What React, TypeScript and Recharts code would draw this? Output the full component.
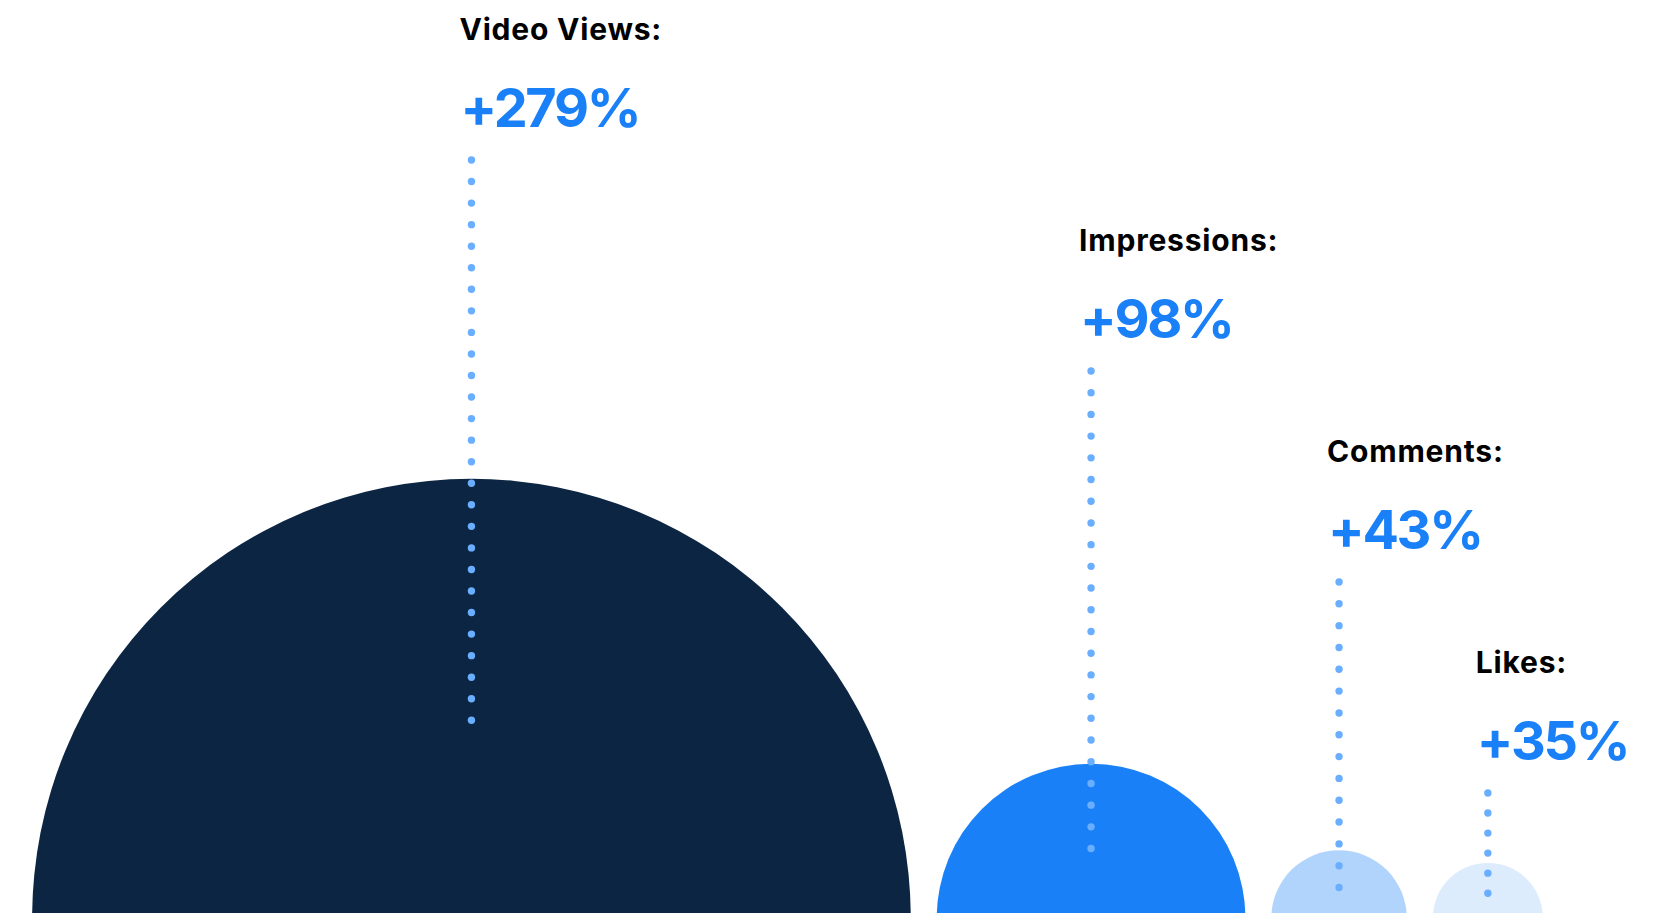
import React from 'react';
import { ScatterChart, Scatter, XAxis, YAxis } from 'recharts';

const categories = ['Video Views:', 'Impressions:', 'Comments:', 'Likes:'];
const growth = [279, 98, 43, 35];
const valueLabels = ['+279%', '+98%', '+43%', '+35%'];
const fills = ['#0C2543', '#1A80F7', '#B1D4FC', '#DDECFD'];

const W = 1657;
const H = 918;
const VIEW_H = 913;
const Y_MAX = 583;
const X_MAX = (Y_MAX * W) / H;
const LEFT_PAD = 20.4;
const GAP = 16.5;

const data: { x: number; y: number; idx: number }[] = [];
{
  let pos = LEFT_PAD;
  growth.forEach((v, i) => {
    const c = pos + v;
    data.push({ x: c, y: v, idx: i });
    pos = c + v + GAP;
  });
}

const DOT_STEP = 21.7;
const DOT_R = 3.7;
const DOT_COLOR = '#6AAEFF';

const Bubble = (props: any) => {
  const { cx, cy, payload } = props;
  const i = payload.idx;
  const base = H;
  const r = base - cy;
  const path = `M ${cx - r} ${base} A ${r} ${r} 0 0 1 ${cx + r} ${base} Z`;
  const labelY = 40 + 211 * i;
  const valueY = labelY + 87;
  const start = labelY + 120;
  const end = base - 0.45 * r;
  const n = Math.round((end - start) / DOT_STEP) + 1;
  const step = (end - start) / (n - 1);
  const dots = [];
  for (let k = 0; k < n; k++) {
    dots.push(<circle key={k} cx={cx} cy={start + k * step} r={DOT_R} fill={DOT_COLOR} />);
  }
  return (
    <g>
      <path d={path} fill={fills[i]} />
      {dots}
      <text
        x={cx - 12}
        y={labelY}
        fontFamily="Inter, 'Open Sans', sans-serif"
        fontWeight={700}
        fontSize={30}
        letterSpacing={0.8}
        fill="#000"
      >
        {categories[i]}
      </text>
      <text
        x={cx - 11}
        y={valueY}
        fontFamily="Inter, 'Open Sans', sans-serif"
        fontWeight={700}
        fontSize={54}
        letterSpacing={-2.3}
        fill="#1A80F7"
      >
        {valueLabels[i]}
      </text>
    </g>
  );
};

export default function App() {
  return (
    <div
      style={{
        position: 'absolute',
        top: 0,
        left: 0,
        width: W,
        height: VIEW_H,
        overflow: 'hidden',
        background: '#fff',
      }}
    >
      <ScatterChart width={W} height={H} margin={{ top: 0, right: 0, bottom: 0, left: 0 }}>
        <XAxis type="number" dataKey="x" domain={[0, X_MAX]} hide allowDataOverflow />
        <YAxis type="number" dataKey="y" domain={[0, Y_MAX]} hide allowDataOverflow />
        <Scatter data={data} shape={Bubble} isAnimationActive={false} />
      </ScatterChart>
    </div>
  );
}
